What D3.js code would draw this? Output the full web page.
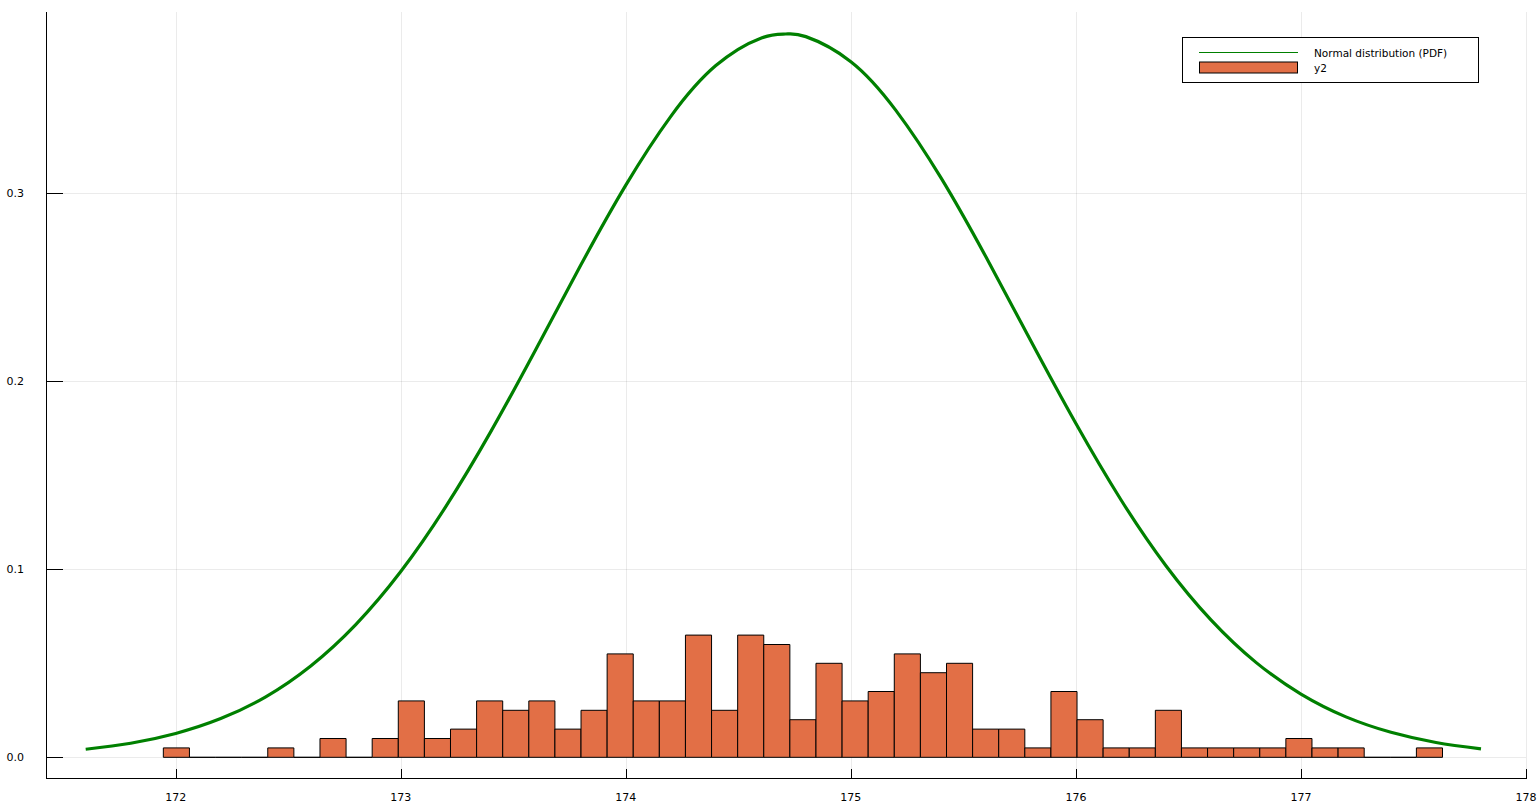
<!DOCTYPE html>
<html>
<head>
<meta charset="utf-8">
<script src="https://cdn.jsdelivr.net/npm/d3@7"></script>
<style>
  html, body { margin: 0; padding: 0; background: #fff; }
  svg { display: block; font-family: "DejaVu Sans", sans-serif; }
</style>
</head>
<body>
<svg id="chart" width="1540" height="810"></svg>
<script>
// ---- data ----
const binStart = 171.945;
const binWidth = 0.116;
const binDensity = [
  0.005, 0, 0, 0, 0.005, 0, 0.010, 0, 0.010, 0.030,
  0.010, 0.015, 0.030, 0.025, 0.030, 0.015, 0.025, 0.055, 0.030, 0.030,
  0.065, 0.025, 0.065, 0.060, 0.020, 0.050, 0.030, 0.035, 0.055, 0.045,
  0.050, 0.015, 0.015, 0.005, 0.035, 0.020, 0.005, 0.005, 0.025, 0.005,
  0.005, 0.005, 0.005, 0.010, 0.005, 0.005, 0, 0, 0.005
];
const pdfX = [171.6, 171.8, 172.0, 172.2, 172.4, 172.6, 172.8, 173.0, 173.2, 173.4,
  173.6, 173.8, 174.0, 174.2, 174.4, 174.6, 174.71, 174.8, 175.0, 175.2, 175.4,
  175.6, 175.8, 176.0, 176.2, 176.4, 176.6, 176.8, 177.0, 177.2, 177.4, 177.6, 177.8];
const pdfY = [0.0043, 0.0075, 0.0127, 0.0206, 0.0322, 0.0486, 0.0706, 0.0988, 0.1333, 0.1732,
  0.2169, 0.2618, 0.3043, 0.3409, 0.3679, 0.3825, 0.3847, 0.3833, 0.3700, 0.3441, 0.3083,
  0.2662, 0.2214, 0.1775, 0.1370, 0.1019, 0.0731, 0.0505, 0.0336, 0.0215, 0.0133, 0.0079, 0.0045];
const xTicks = [172, 173, 174, 175, 176, 177, 178];
const yTicks = [0.0, 0.1, 0.2, 0.3];
const legendLabels = ["Normal distribution (PDF)", "y2"];

// ---- layout ----
const plot = { left: 46, right: 1526, top: 12, bottom: 778 };
const svg = d3.select("#chart");

const x = d3.scaleLinear().domain([171.4236, 178.0]).range([plot.left, plot.right]);
const y = d3.scaleLinear().domain([-0.011, 0.3964]).range([plot.bottom, plot.top]);

// grid
const grid = svg.append("g");
grid.selectAll(".gx").data(xTicks).enter().append("line")
  .attr("x1", d => Math.round(x(d)) + 0.5).attr("x2", d => Math.round(x(d)) + 0.5)
  .attr("y1", plot.top).attr("y2", plot.bottom)
  .attr("stroke", "#000").attr("stroke-opacity", 0.08).attr("stroke-width", 1);
grid.selectAll(".gy").data(yTicks).enter().append("line")
  .attr("y1", d => Math.round(y(d)) + 0.5).attr("y2", d => Math.round(y(d)) + 0.5)
  .attr("x1", plot.left).attr("x2", plot.right)
  .attr("stroke", "#000").attr("stroke-opacity", 0.08).attr("stroke-width", 1);

// bars (outline path so that empty bins still show a baseline)
const bins = binDensity.map((v, i) => ({ x0: binStart + i * binWidth, x1: binStart + (i + 1) * binWidth, v }));
svg.append("g").selectAll("path").data(bins).enter().append("path")
  .attr("d", d => {
    const a = x(d.x0), b = x(d.x1), y0 = y(0), y1 = y(d.v);
    return `M${a},${y0}L${a},${y1}L${b},${y1}L${b},${y0}Z`;
  })
  .attr("fill", "#e26f46")
  .attr("stroke", "#000").attr("stroke-width", 1);

// pdf line
const pts = pdfX.map((v, i) => [v, pdfY[i]]);
svg.append("path")
  .datum(pts)
  .attr("d", d3.line().x(d => x(d[0])).y(d => y(d[1])).curve(d3.curveNatural))
  .attr("fill", "none").attr("stroke", "#008000").attr("stroke-width", 3.2);

// axes spines
svg.append("line").attr("x1", plot.left + 0.5).attr("x2", plot.left + 0.5)
  .attr("y1", plot.top).attr("y2", plot.bottom).attr("stroke", "#000").attr("stroke-width", 1);
svg.append("line").attr("x1", plot.left).attr("x2", plot.right + 1)
  .attr("y1", plot.bottom + 0.5).attr("y2", plot.bottom + 0.5).attr("stroke", "#000").attr("stroke-width", 1);

// ticks
svg.append("g").selectAll("line").data(yTicks).enter().append("line")
  .attr("x1", plot.left).attr("x2", plot.left + 17)
  .attr("y1", d => Math.round(y(d)) + 0.5).attr("y2", d => Math.round(y(d)) + 0.5)
  .attr("stroke", "#000").attr("stroke-width", 1);
svg.append("g").selectAll("line").data(xTicks).enter().append("line")
  .attr("x1", d => Math.round(x(d)) + 0.5).attr("x2", d => Math.round(x(d)) + 0.5)
  .attr("y1", plot.bottom).attr("y2", plot.bottom - 9)
  .attr("stroke", "#000").attr("stroke-width", 1);

// tick labels
svg.append("g").selectAll("text").data(yTicks).enter().append("text")
  .attr("x", 24).attr("y", d => y(d))
  .attr("text-anchor", "end").attr("dominant-baseline", "central")
  .attr("font-size", 11).attr("fill", "#000")
  .text(d => d3.format(".1f")(d));
svg.append("g").selectAll("text").data(xTicks).enter().append("text")
  .attr("x", d => x(d)).attr("y", 797)
  .attr("text-anchor", "middle").attr("dominant-baseline", "central")
  .attr("font-size", 11).attr("fill", "#000")
  .text(d => d);

// legend
const lg = svg.append("g");
lg.append("rect").attr("x", 1182.5).attr("y", 37.5).attr("width", 296).attr("height", 45)
  .attr("fill", "#fff").attr("stroke", "#000").attr("stroke-width", 1);
lg.append("line").attr("x1", 1199).attr("x2", 1298).attr("y1", 52.5).attr("y2", 52.5)
  .attr("stroke", "#008000").attr("stroke-width", 1.2);
lg.append("rect").attr("x", 1199.5).attr("y", 62).attr("width", 98).attr("height", 11)
  .attr("fill", "#e26f46").attr("stroke", "#000").attr("stroke-width", 1);
lg.selectAll("text").data(legendLabels).enter().append("text")
  .attr("x", 1314).attr("y", (d, i) => 52.5 + i * 15)
  .attr("dominant-baseline", "central")
  .attr("font-size", 10.5).attr("fill", "#000")
  .text(d => d);
</script>
</body>
</html>
